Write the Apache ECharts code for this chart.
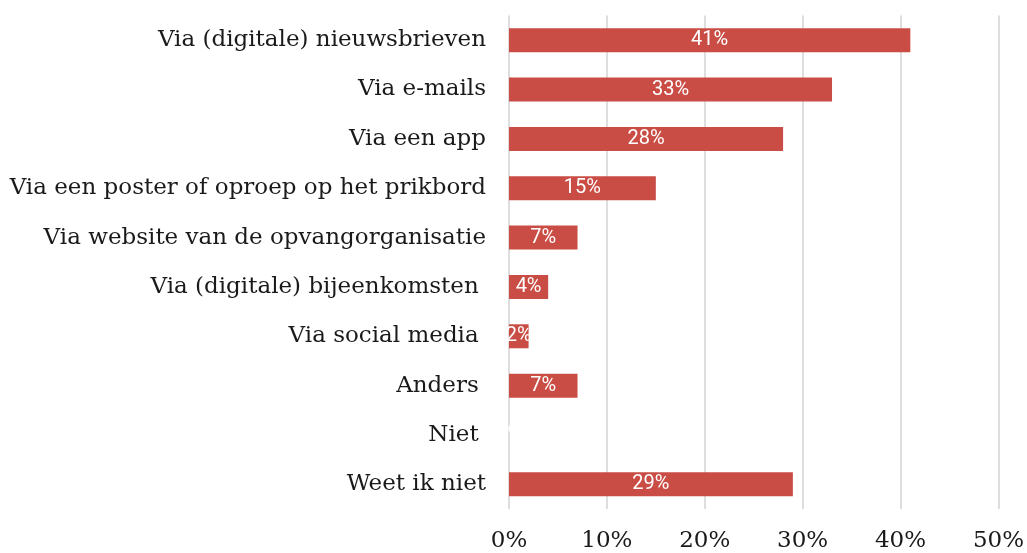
<!DOCTYPE html>
<html>
<head>
<meta charset="utf-8">
<script src="https://cdn.jsdelivr.net/npm/echarts@6/dist/echarts.min.js"></script>
<style>
  html, body { margin: 0; padding: 0; background: #ffffff; }
  #chart { width: 1027px; height: 553px; }
</style>
</head>
<body>
<div id="chart"></div>
<script>
// Channels through which parents receive information (share of respondents, %)
const categories = [
  'Via (digitale) nieuwsbrieven',
  'Via e-mails',
  'Via een app',
  'Via een poster of oproep op het prikbord',
  'Via website van de opvangorganisatie',
  'Via (digitale) bijeenkomsten ',
  'Via social media ',
  'Anders ',
  'Niet ',
  'Weet ik niet'
];
const values = [41, 33, 28, 15, 7, 4, 2, 7, 0, 29];
const tickValues = [0, 10, 20, 30, 40, 50];

const chart = echarts.init(document.getElementById('chart'), null, { renderer: 'canvas' });

chart.setOption({
  animation: false,
  backgroundColor: '#ffffff',
  grid: { left: 509, right: 28, top: 15.5, bottom: 42.3, containLabel: false },
  xAxis: {
    type: 'value',
    min: tickValues[0],
    max: tickValues[tickValues.length - 1],
    interval: tickValues[1] - tickValues[0],
    axisLine: { show: false },
    axisTick: { show: false },
    splitLine: { show: true, lineStyle: { color: '#dedede', width: 2 } },
    axisLabel: {
      formatter: v => v + '%',
      fontFamily: 'DejaVu Serif',
      fontSize: 23,
      color: '#1a1a1a',
      margin: 21
    }
  },
  yAxis: {
    type: 'category',
    inverse: true,
    data: categories,
    axisLine: { show: false },
    axisTick: { show: false },
    splitLine: { show: false },
    axisLabel: {
      fontFamily: 'DejaVu Serif',
      fontSize: 23,
      color: '#1a1a1a',
      margin: 23
    }
  },
  series: [{
    type: 'bar',
    data: values,
    barWidth: 24,
    itemStyle: { color: '#c94d45' },
    label: {
      show: true,
      position: 'inside',
      formatter: p => p.value + '%',
      color: '#ffffff',
      fontFamily: 'Roboto',
      fontSize: 20
    }
  }]
});
</script>
</body>
</html>
